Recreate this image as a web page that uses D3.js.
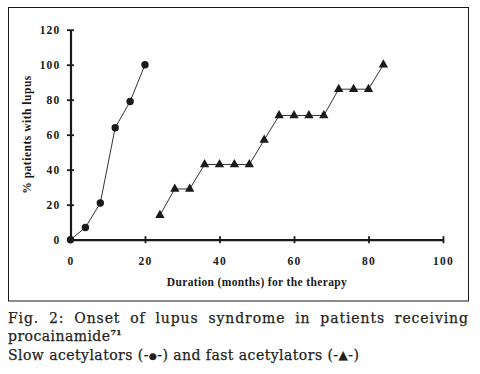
<!DOCTYPE html>
<html>
<head>
<meta charset="utf-8">
<script src="https://cdn.jsdelivr.net/npm/d3@7"></script>
<style>
  body { margin: 0; background: #fff; }
  #chart { position: relative; width: 480px; height: 374px; overflow: hidden; }
  .cap {
    position: absolute; left: 8px; width: 461px;
    font-family: "DejaVu Serif", serif; font-size: 14px; line-height: 16px;
    color: #231f20; letter-spacing: 0.45px; white-space: nowrap;
    -webkit-text-stroke: 0.25px #231f20;
  }
  .cap.just { display: flex; justify-content: space-between; letter-spacing: 0.9px; }
  .cap sup { font-size: 8px; font-weight: bold; letter-spacing: 0; vertical-align: 6px; line-height: 0; }
  .cap .dot { font-size: 9px; vertical-align: 1px; }
  .cap .tri { font-size: 12px; vertical-align: 1px; }
</style>
</head>
<body>
<div id="chart"></div>
<script>
// slow acetylators (circles)
const slowMonths = [0, 4, 8, 12, 16, 20];
const slowPct = [0, 7, 21, 64, 79, 100];
// fast acetylators (triangles)
const fastMonths = [24, 28, 32, 36, 40, 44, 48, 52, 56, 60, 64, 68, 72, 76, 80, 84];
const fastPct = [14, 29, 29, 43, 43, 43, 43, 57, 71, 71, 71, 71, 86, 86, 86, 100];
const xTicks = [0, 20, 40, 60, 80, 100];
const yTicks = [0, 20, 40, 60, 80, 100, 120];

const width = 480;
const height = 374;
const margin = { top: 29.7, right: 37, bottom: 134.3, left: 70.5 };
const ink = "#1a1a1a";

const container = d3.select("#chart");

const svg = container.append("svg")
  .attr("width", width)
  .attr("height", height)
  .style("position", "absolute")
  .style("left", 0).style("top", 0);

// frame around the figure
svg.append("rect")
  .attr("x", 8.5).attr("y", 7.5)
  .attr("width", 460).attr("height", 293.5)
  .attr("fill", "none")
  .attr("stroke", ink)
  .attr("stroke-width", 1);

const x = d3.scaleLinear().domain([0, 100]).range([margin.left, width - margin.right]);
const y = d3.scaleLinear().domain([0, 120]).range([height - margin.bottom, margin.top]);

const tickFont = g => g.selectAll("text")
  .style("font-family", "'Liberation Serif', 'Times New Roman', serif")
  .style("font-weight", "bold")
  .style("font-size", "11.5px")
  .style("letter-spacing", "1.2px")
  .attr("fill", ink);

// x axis, ticks cross the line
svg.append("g")
  .attr("transform", `translate(0,${y(0)})`)
  .call(d3.axisBottom(x).tickValues(xTicks).tickSize(0).tickPadding(0))
  .call(g => g.select(".domain").attr("stroke", ink).attr("stroke-width", 2.2))
  .call(g => g.selectAll(".tick line").attr("y1", -3.5).attr("y2", 3.5)
    .attr("stroke", ink).attr("stroke-width", 1.8))
  .call(g => g.selectAll(".tick text").attr("y", 25).attr("dy", 0))
  .call(tickFont)
  .call(g => g.selectAll(".tick").filter(d => d === 0).select("line").remove());

// y axis
svg.append("g")
  .attr("transform", `translate(${x(0)},0)`)
  .call(d3.axisLeft(y).tickValues(yTicks).tickSize(0).tickPadding(0))
  .call(g => g.select(".domain").attr("stroke", ink).attr("stroke-width", 2.2))
  .call(g => g.selectAll(".tick line").attr("x1", -3.5).attr("x2", 3.5)
    .attr("stroke", ink).attr("stroke-width", 1.8))
  .call(g => g.selectAll(".tick text").attr("x", -10).attr("dy", "0.34em"))
  .call(tickFont);

// axis titles
svg.append("text")
  .attr("x", (x(0) + x(100)) / 2)
  .attr("y", 286)
  .attr("text-anchor", "middle")
  .attr("textLength", 180)
  .style("font-family", "'Liberation Serif', 'Times New Roman', serif")
  .style("font-weight", "bold")
  .style("font-size", "11.5px")
  .attr("fill", ink)
  .text("Duration (months) for the therapy");

svg.append("text")
  .attr("transform", `translate(31,${(y(0) + y(120)) / 2}) rotate(-90)`)
  .attr("text-anchor", "middle")
  .attr("textLength", 118)
  .style("font-family", "'Liberation Serif', 'Times New Roman', serif")
  .style("font-weight", "bold")
  .style("font-size", "11.5px")
  .attr("fill", ink)
  .text("% patients with lupus");

const slow = slowMonths.map((m, i) => ({ m, p: slowPct[i] }));
const fast = fastMonths.map((m, i) => ({ m, p: fastPct[i] }));

const line = d3.line().x(d => x(d.m)).y(d => y(d.p));

[slow, fast].forEach(series => {
  svg.append("path")
    .datum(series)
    .attr("d", line)
    .attr("fill", "none")
    .attr("stroke", "#333")
    .attr("stroke-width", 1);
});

svg.append("g").selectAll("circle")
  .data(slow)
  .join("circle")
  .attr("cx", d => x(d.m))
  .attr("cy", d => y(d.p))
  .attr("r", 3.7)
  .attr("fill", ink);

svg.append("g").selectAll("path")
  .data(fast)
  .join("path")
  .attr("transform", d => `translate(${x(d.m)},${y(d.p)})`)
  .attr("d", d3.symbol(d3.symbolTriangle, 38))
  .attr("fill", ink);

// caption, first line spread over the full width
const capWords = "Fig. 2: Onset of lupus syndrome in patients receiving".split(" ");
container.append("div").attr("class", "cap just")
  .style("top", "310px")
  .selectAll("span")
  .data(capWords)
  .join("span")
  .text(d => d);

container.append("div").attr("class", "cap")
  .style("top", "328px")
  .html("procainamide<sup>71</sup>");

container.append("div").attr("class", "cap")
  .style("top", "347px")
  .html("Slow acetylators (-<span class='dot'>&#9679;</span>-) and fast acetylators (-<span class='tri'>&#9650;</span>-)");
</script>
</body>
</html>
